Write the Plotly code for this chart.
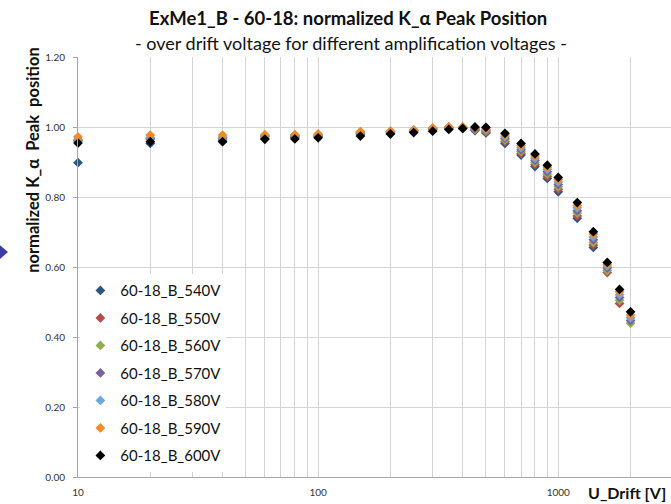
import plotly.graph_objects as go

x_drift = [10, 20, 40, 60, 80, 100, 150, 200, 250, 300, 350, 400, 450, 500,
           600, 700, 800, 900, 1000, 1200, 1400, 1600, 1800, 2000]

series_names = ["60-18_B_540V", "60-18_B_550V", "60-18_B_560V", "60-18_B_570V",
                "60-18_B_580V", "60-18_B_590V", "60-18_B_600V"]

series_colors = ["#2B5684", "#B94A48", "#8FAE55", "#7A619E", "#6FA6DB", "#F28A26", "#000000"]

v540 = [0.898, 0.953, 0.960, 0.968, 0.970, 0.972, 0.980, 0.982, 0.987, 0.992, 0.996, 0.996, 0.990, 0.983,
        0.953, 0.920, 0.887, 0.853, 0.815, 0.739, 0.656, None, None, None]
v550 = [0.960, 0.965, 0.966, 0.972, 0.973, 0.974, 0.982, 0.984, 0.989, 0.994, 0.997, 0.997, 0.992, 0.986,
        0.958, 0.925, 0.893, 0.859, 0.822, 0.746, 0.663, 0.584, 0.496, None]
v560 = [0.962, 0.967, 0.968, 0.973, 0.974, 0.975, 0.983, 0.985, 0.990, 0.995, 0.998, 0.998, 0.994, 0.988,
        0.963, 0.930, 0.899, 0.866, 0.829, 0.754, 0.670, 0.590, 0.505, 0.439]
v570 = [0.963, 0.968, 0.970, 0.975, 0.976, 0.977, 0.985, 0.987, 0.991, 0.996, 0.999, 0.999, 0.996, 0.990,
        0.968, 0.935, 0.905, 0.872, 0.836, 0.761, 0.678, 0.597, 0.513, 0.447]
v580 = [0.965, 0.970, 0.971, 0.976, 0.977, 0.978, 0.986, 0.988, 0.992, 0.997, 1.000, 1.000, 0.997, 0.992,
        0.972, 0.941, 0.911, 0.879, 0.843, 0.769, 0.686, 0.603, 0.521, 0.455]
v590 = [0.972, 0.977, 0.977, 0.978, 0.978, 0.980, 0.987, 0.988, 0.990, 0.997, 1.000, 1.000, 0.998, 0.994,
        0.977, 0.947, 0.917, 0.885, 0.849, 0.776, 0.694, 0.608, 0.529, 0.463]
v600 = [0.954, 0.958, 0.958, 0.965, 0.966, 0.969, 0.974, 0.980, 0.984, 0.988, 0.993, 0.996, 1.000, 0.999,
        0.982, 0.953, 0.923, 0.891, 0.856, 0.784, 0.701, 0.613, 0.536, 0.472]

series_values = [v540, v550, v560, v570, v580, v590, v600]

x_gridvals = [10, 20, 30, 40, 50, 60, 70, 80, 90, 100, 200, 300, 400, 500, 600, 700, 800, 900,
              1000, 2000, 3000]
x_ticktext = ["10", "", "", "", "", "", "", "", "", "100", "", "", "", "", "", "", "", "",
              "1000", "", ""]

FONT = "Lato, 'Open Sans', sans-serif"

fig = go.Figure()
for name, color, vals in zip(series_names, series_colors, series_values):
    fig.add_trace(go.Scatter(
        x=x_drift, y=vals, mode="markers", name=name, legendgroup=name,
        cliponaxis=False,
        marker=dict(symbol="diamond", size=7.5, color=color, line=dict(width=0)),
    ))

fig.update_layout(
    width=671, height=504,
    margin=dict(l=78, r=0, t=57, b=27),
    paper_bgcolor="white", plot_bgcolor="white",
    font=dict(family=FONT, color="#222"),
    showlegend=True,
    legend=dict(x=0.004, y=0.483, xanchor="left", yanchor="top",
                bgcolor="white", borderwidth=0, tracegroupgap=5,
                font=dict(size=15, color="#111", family=FONT),
                itemsizing="trace"),
    xaxis=dict(type="log", range=[1, 3.4695], tickmode="array",
               tickvals=x_gridvals, ticktext=x_ticktext,
               showgrid=True, gridcolor="#d4d4d4", gridwidth=1,
               showline=True, linecolor="#a6a6a6", linewidth=1,
               ticks="", tickfont=dict(size=10, color="#333"), ticklabelstandoff=6,
               zeroline=False),
    yaxis=dict(range=[0, 1.2], dtick=0.2, tick0=0, tickformat=".2f",
               showgrid=True, gridcolor="#d4d4d4", gridwidth=1,
               showline=True, linecolor="#a6a6a6", linewidth=1,
               ticks="outside", ticklen=4, tickcolor="#a6a6a6",
               tickfont=dict(size=10, color="#333"), ticklabelstandoff=6,
               zeroline=False),
    annotations=[
        dict(text="<b>ExMe1_B - 60-18: normalized K_α Peak Position</b>",
             xref="paper", yref="paper", x=0.455, y=1.093, xanchor="center", yanchor="middle",
             showarrow=False, font=dict(size=18.5, color="#111", family=FONT)),
        dict(text="- over drift voltage for different amplification voltages -",
             xref="paper", yref="paper", x=0.46, y=1.033, xanchor="center", yanchor="middle",
             showarrow=False, font=dict(size=18, color="#111", family=FONT)),
        dict(text="<b>normalized K_α  Peak  position</b>",
             xref="paper", yref="paper", x=-0.076, y=0.755, xanchor="center", yanchor="middle",
             textangle=-90, showarrow=False, font=dict(size=16.5, color="#111", family=FONT)),
        dict(text="<b>U_Drift [V]</b>",
             xref="paper", yref="paper", x=0.926, y=-0.038, xanchor="center", yanchor="middle",
             showarrow=False, font=dict(size=16, color="#111", family=FONT)),
    ],
    shapes=[
        dict(type="path", xref="paper", yref="paper",
             path="M -0.1315 0.552 L -0.118 0.536 L -0.1315 0.519 Z",
             fillcolor="#3a3aa8", line=dict(width=0)),
    ],
)

fig.write_html("out.html")
